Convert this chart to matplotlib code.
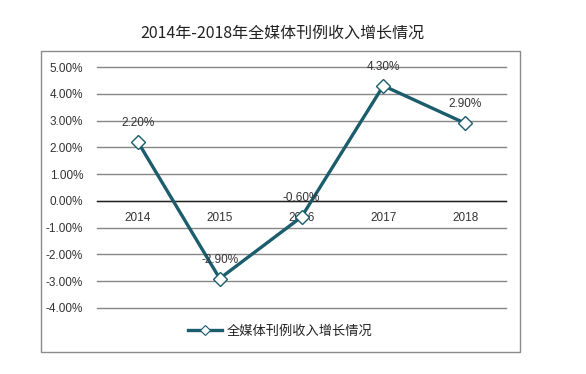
import matplotlib
matplotlib.use("Agg")
import matplotlib.pyplot as plt
from matplotlib.patches import Rectangle
from matplotlib.lines import Line2D
from matplotlib.ticker import FuncFormatter

plt.rcParams['font.family'] = ['Liberation Sans', 'Noto Sans CJK SC', 'DejaVu Sans']

years = ['2014', '2015', '2016', '2017', '2018']
growth = [2.20, -2.90, -0.60, 4.30, 2.90]
yticks = [5, 4, 3, 2, 1, 0, -1, -2, -3, -4]
title = '2014年-2018年全媒体刊例收入增长情况'
series_name = '全媒体刊例收入增长情况'

W, H = 586, 374
fig = plt.figure(figsize=(W / 100, H / 100), dpi=100)
fig.patch.set_facecolor('white')

# outer chart border
fig.add_artist(Rectangle((41 / W, 1 - 352 / H), (520 - 41) / W, (352 - 51) / H,
                         transform=fig.transFigure, fill=False,
                         edgecolor='#8a8a8a', linewidth=1.0))

ax = fig.add_axes([97 / W, 1 - 308 / H, (506 - 97) / W, (308 - 67) / H])
x = list(range(len(years)))
color = '#1b5d6c'
ax.plot(x, growth, color=color, linewidth=2.4, marker='D', markersize=7.5,
        markerfacecolor='white', markeredgecolor=color, markeredgewidth=1.0,
        zorder=3)

for xi, v in zip(x, growth):
    ax.annotate(f'{v:.2f}%', (xi, v), xytext=(0, 13.5), textcoords='offset points',
                ha='center', va='center', fontsize=8.5, color='#333333', zorder=4)

ax.set_xlim(-0.5, len(years) - 0.5)
ax.set_ylim(-4, 5)
ax.set_yticks(yticks)
ax.yaxis.set_major_formatter(FuncFormatter(lambda v, p: f'{v:.2f}%'))
ax.set_xticks(x)
ax.set_xticklabels(years)
ax.tick_params(axis='both', length=0, labelsize=8.5, colors='#333333')
ax.tick_params(axis='y', pad=10)
ax.tick_params(axis='x', pad=8)
for s in ['left', 'right', 'top']:
    ax.spines[s].set_visible(False)
ax.spines['bottom'].set_position(('data', 0))
ax.spines['bottom'].set_color('#222222')
ax.spines['bottom'].set_linewidth(1.0)
ax.grid(axis='y', color='#868686', linewidth=1.0)
ax.set_axisbelow(True)
for gl in ax.yaxis.get_gridlines():
    gl.set_clip_on(False)

fig.text(282 / W, 1 - 33 / H, title, ha='center', va='center', fontsize=11.5,
         color='#222222', family=['Noto Sans CJK SC', 'DejaVu Sans'])

handle = Line2D([], [], color=color, linewidth=2.4, marker='D', markersize=5,
                markerfacecolor='white', markeredgecolor=color, markeredgewidth=0.8)
leg = fig.legend([handle], [series_name], loc='center',
                 bbox_to_anchor=(280 / W, 1 - 331 / H), frameon=False,
                 handlelength=2.6, handletextpad=0.3,
                 prop={'family': ['Noto Sans CJK SC'], 'size': 9.5})
for t in leg.get_texts():
    t.set_color('#222222')

fig.savefig('out.png', dpi=100, facecolor='white')
